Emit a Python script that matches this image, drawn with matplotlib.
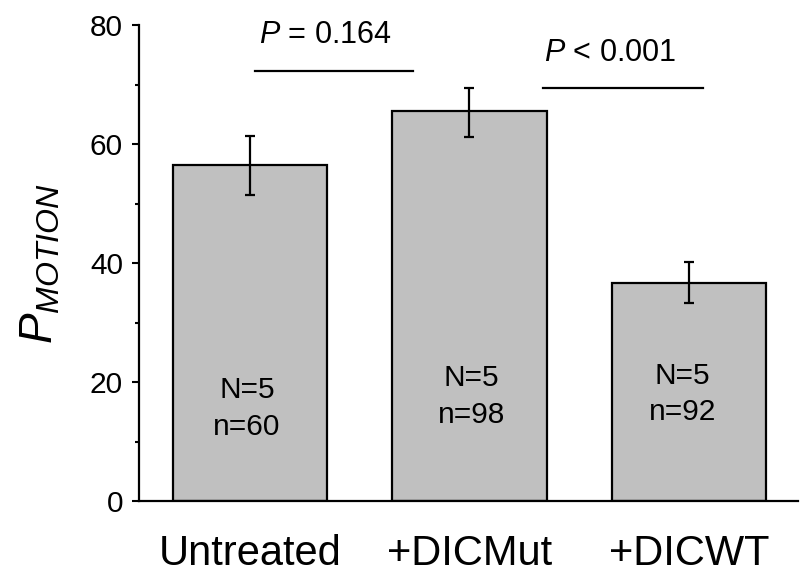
import matplotlib
matplotlib.use('Agg')
import matplotlib.pyplot as plt
import numpy as np

plt.rcParams['font.family'] = ['Liberation Sans', 'DejaVu Sans']
plt.rcParams['mathtext.fontset'] = 'custom'
plt.rcParams['mathtext.it'] = 'Liberation Sans:italic'
plt.rcParams['mathtext.rm'] = 'Liberation Sans'

categories = ['Untreated', '+DICMut', '+DICWT']
means = [56.4, 65.5, 36.6]
err_low = [5.0, 4.3, 3.3]
err_high = [4.9, 3.9, 3.5]
counts = ['N=5\nn=60', 'N=5\nn=98', 'N=5\nn=92']
p_labels = ['= 0.164', '< 0.001']

fig = plt.figure(figsize=(8.02, 5.76), dpi=100)
ax = fig.add_axes([0.1733, 0.130, 0.8217, 0.8266])

x = np.arange(len(categories))
ax.bar(x, means, width=0.705, color='#c0c0c0', edgecolor='black', linewidth=1.6, zorder=2)
ax.errorbar(x, means, yerr=[err_low, err_high], fmt='none', ecolor='black',
            elinewidth=1.6, capsize=3.3, capthick=1.6, zorder=3)

# N / n inside the bars
count_pos = [(-0.014, 15.6), (1.01, 17.6), (1.97, 18.0)]
for (tx, ty), s in zip(count_pos, counts):
    ax.text(tx, ty, s, ha='center', va='center', fontsize=21.5, linespacing=1.4)

# significance bars
ax.plot([0.023, 0.743], [72.3, 72.3], color='black', lw=1.6)
ax.plot([1.335, 2.064], [69.4, 69.4], color='black', lw=1.6)
ax.text(0.342, 78.3, r'$\mathit{P}$ ' + p_labels[0], ha='center', va='center', fontsize=22)
ax.text(1.64, 75.3, r'$\mathit{P}$ ' + p_labels[1], ha='center', va='center', fontsize=22)

ax.set_xlim(-0.506, 2.497)
ax.set_ylim(0, 80)
ax.set_yticks([0, 20, 40, 60, 80])
ax.set_yticks([10, 30, 50, 70], minor=True)
ax.set_xticks(x)
ax.set_xticklabels(categories, fontsize=30)
ax.tick_params(axis='x', length=0, pad=24)
ax.tick_params(axis='y', which='major', length=5, width=1.5, labelsize=21.5, pad=6.5)
ax.tick_params(axis='y', which='minor', length=3, width=1.5)

for side in ['top', 'right']:
    ax.spines[side].set_visible(False)
for side in ['left', 'bottom']:
    ax.spines[side].set_linewidth(1.6)

ax.set_ylabel(r'$\mathit{P}_{\mathit{MOTION}}$', fontsize=33, labelpad=20)

fig.savefig('out.png', dpi=100)
